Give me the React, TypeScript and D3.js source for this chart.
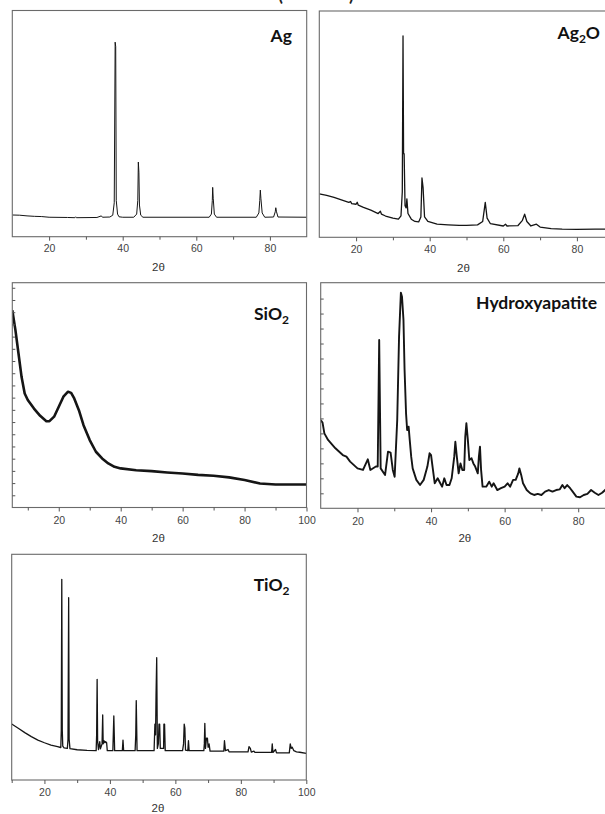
import React, { useRef, useEffect } from 'react'
import * as d3 from 'd3'

type Pt = [number, number]

// intensities are read as % of the plot height (0 = x axis, 100 = top frame)
const agData: Pt[] = [
  [10, 9.6], [12, 9.5], [14, 9.2], [16, 9.0], [18, 8.9], [20, 8.6], [25, 8.5], [27, 8.4], [27.2, 8.8],
  [27.4, 8.4], [33, 8.5], [34.2, 9.2], [34.5, 8.6], [36.5, 8.7], [37.3, 9.5], [37.7, 15], [37.95, 86],
  [38.1, 84], [38.25, 16], [38.6, 10], [39, 8.8], [40, 8.6], [43, 8.6], [43.8, 10], [44.1, 16],
  [44.25, 33], [44.4, 28.5], [44.55, 14], [44.9, 9.5], [45.5, 8.6], [63.5, 8.6], [64.1, 10], [64.35, 16],
  [64.45, 21.8], [64.6, 17], [64.9, 10], [65.5, 8.6], [76.3, 8.6], [77, 10.5], [77.25, 16], [77.4, 20.6],
  [77.55, 17], [77.9, 10.5], [78.6, 8.6], [81, 8.7], [81.45, 11], [81.6, 12.8], [81.8, 11], [82.2, 8.7],
  [90, 8.6],
]

const ag2oData: Pt[] = [
  [10, 19.2], [12, 18.5], [14, 17.6], [16, 16.5], [18, 15.4], [18.5, 15.8], [18.8, 14.9], [20, 14.6],
  [20.3, 15.5], [20.6, 14.2], [22, 13.2], [24, 12.0], [26, 10.5], [26.6, 11.5], [26.9, 10.2], [28, 9.4],
  [30, 8.5], [31.5, 8], [32.2, 9.5], [32.55, 20], [32.75, 89], [32.9, 37], [33.05, 37], [33.3, 14],
  [33.6, 13], [33.8, 17], [34.1, 10.5], [35, 8], [36, 7], [37, 6.8], [37.6, 9], [37.9, 26.2], [38.2, 22],
  [38.6, 9], [39.5, 7], [42, 5.8], [45, 5.5], [48, 5.3], [50, 5.3], [53, 5.5], [54.4, 7], [55.1, 15.4],
  [55.6, 8.5], [56.5, 6], [60, 5], [60.6, 5.8], [61, 5], [64, 5.2], [65.2, 7.5], [65.8, 10.2], [66.4, 7],
  [67.5, 5], [69, 5.8], [70, 4.5], [73, 3.8], [76, 3.6], [80, 3.5], [85, 3.6], [90, 3.6],
]

const sio2Data: Pt[] = [
  [5, 87.8], [6, 79], [7, 68.5], [8, 58], [9, 50.7], [10, 47.8], [12, 44], [14, 40.8], [16, 38.4],
  [17, 38.4], [18.5, 40.4], [20, 44.8], [21.5, 49.3], [23, 51.5], [24, 51], [25, 48.5], [26.5, 43.3],
  [28, 36.6], [30, 30], [32, 24.8], [34, 21.8], [36, 19.6], [38, 18.1], [40, 17.4], [45, 16.6],
  [50, 16.2], [55, 15.6], [60, 15.1], [65, 14.5], [70, 14.1], [75, 13.4], [80, 12.2], [85, 10.7],
  [90, 10.2], [95, 10.2], [100, 10.2],
]

const hapData: Pt[] = [
  [10, 39.1], [10.5, 38], [11, 33.2], [12, 30.3], [14, 26.6], [16, 23.6], [17, 22.9], [18, 20.7],
  [20, 17.7], [21.5, 17.0], [22.8, 21.7], [23.5, 17.0], [25, 18.5], [25.5, 18.5], [25.9, 74.6],
  [26.3, 17.7], [27.5, 14.8], [28.3, 25.1], [29, 24.7], [29.6, 17.0], [30.1, 14.0], [30.8, 39.1],
  [31.3, 76.1], [31.8, 95.6], [32.1, 93.8], [32.5, 83.5], [32.8, 61.3], [33.2, 42.1], [33.5, 34.7],
  [33.9, 36.2], [34.2, 30.3], [34.6, 22.9], [35, 17.7], [36, 12.6], [37, 10.3], [38, 12.6], [39, 18.5],
  [39.6, 24.4], [40, 23.6], [40.4, 18.5], [41, 11.1], [41.8, 13.3], [42.5, 11.1], [43, 9.6],
  [43.6, 13.3], [44.2, 10.3], [45, 10.3], [45.6, 13.3], [46.3, 22.9], [46.6, 29.5], [47, 22.9],
  [47.5, 15.5], [48, 19.9], [48.5, 17.0], [49, 17.0], [49.3, 31.8], [49.6, 37.7], [50, 30.3],
  [50.4, 21.4], [51, 22.2], [51.5, 19.9], [52, 18.5], [52.7, 15.5], [53, 22.9], [53.3, 27.3],
  [53.6, 17.0], [54, 9.6], [55, 9.6], [55.8, 11.8], [56.5, 9.6], [57, 11.1], [58, 8.1], [59, 8.9],
  [60, 9.6], [60.8, 11.1], [61.5, 9.6], [62.3, 12.6], [63, 12.6], [63.7, 15.5], [64, 17.7], [64.5, 14.8],
  [65, 11.1], [66, 8.1], [67, 6.6], [68, 5.9], [69, 6.4], [70, 5.9], [71, 7.4], [72, 8.1], [73, 7.4],
  [74, 8.1], [75, 8.4], [75.7, 10.3], [76.3, 8.9], [77, 10.3], [77.8, 8.9], [78.5, 7.4], [79.5, 5.2],
  [80.5, 4.9], [81.5, 5.9], [82.5, 6.4], [83.5, 8.1], [84.5, 6.9], [85.5, 5.9], [86.5, 6.9],
  [87.5, 8.4], [88.5, 5.9], [90, 7.4],
]

const tio2Data: Pt[] = [
  [10, 24.8], [12, 22.9], [14, 21], [16, 19.2], [18, 17.7], [20, 16.5], [22, 15.5], [24, 14.8],
  [25, 14.4], [25.15, 22], [25.3, 88.9], [25.45, 22], [25.6, 15], [26, 14.2], [27, 14], [27.2, 18],
  [27.4, 80.8], [27.55, 18], [27.8, 13.9], [30, 13.4], [33, 13.1], [35.8, 13], [35.95, 20], [36.1, 44.6],
  [36.25, 17], [36.5, 13.5], [36.9, 17], [37.1, 13.8], [37.6, 16], [37.8, 28.8], [37.95, 16], [38.2, 17.4],
  [38.5, 16.5], [38.7, 17], [39.0, 16.5], [39.2, 13], [40.9, 13], [41.2, 28.4], [41.45, 13], [43.8, 13],
  [44.0, 17.7], [44.2, 13], [47.7, 13], [47.9, 20], [48.05, 35.2], [48.3, 13], [53.5, 13], [53.75, 24.8],
  [53.95, 20], [54.1, 38], [54.3, 54.2], [54.5, 14], [54.8, 16], [55.0, 24.8], [55.2, 24.8], [55.4, 14],
  [56.4, 14], [56.5, 24.8], [56.7, 24.8], [56.9, 13], [62.2, 13], [62.5, 16], [62.7, 24.8], [62.9, 23],
  [63.1, 13.2], [63.8, 13], [64.0, 17.4], [64.2, 13], [68.7, 13], [68.85, 16], [69.0, 25.1], [69.2, 14],
  [69.5, 18.5], [69.8, 18.5], [70.0, 14.5], [70.3, 16], [70.6, 12.8], [74.8, 12.8], [75, 17.4], [75.3, 13],
  [76.1, 13.5], [76.4, 12.5], [82.2, 12.5], [82.5, 14.8], [82.9, 14], [83.2, 12.4], [84, 12.8],
  [84.3, 12.2], [89.4, 12.2], [89.6, 16], [89.8, 12.2], [90.6, 13.5], [90.9, 12], [94.8, 12], [95.1, 16],
  [95.4, 14], [95.7, 14.5], [96.2, 13], [97, 12.5], [98, 12.3], [100, 11.8],
]

const ticks90 = [20, 40, 60, 80]
const minor90 = [30, 50, 70]
const ticks100 = [20, 40, 60, 80, 100]
const minor100 = [10, 30, 50, 70, 90]

export default function App() {
  const svgRef = useRef<SVGSVGElement>(null)

  useEffect(() => {
    if (!svgRef.current) return
    const svg = d3.select(svgRef.current)
    svg.selectAll('*').remove()

    const panels = [
      { name: 'Ag', sub: '', tail: '', data: agData, dom: [10, 90], box: [12.3, 10.5, 306.7, 236.7], major: ticks90, minor: minor90, lw: 1, lab: [292, 42], pad: 4, yStep: 0, tOff: 34.5 },
      { name: 'Ag', sub: '2', tail: 'O', data: ag2oData, dom: [10, 90], box: [319.3, 11, 613.7, 237.3], major: ticks90, minor: minor90, lw: 1.3, lab: [600, 39], pad: 4, yStep: 0, tOff: 34.5 },
      { name: 'SiO', sub: '2', tail: '', data: sio2Data, dom: [5, 100], box: [12.3, 282.7, 306.5, 507.5], major: ticks100, minor: minor100, lw: 2.6, lab: [289, 320], pad: 5, yStep: 5.43, tOff: 34.5 },
      { name: 'Hydroxyapatite', sub: '', tail: '', data: hapData, dom: [10, 90], box: [320.7, 282.7, 615, 508.3], major: ticks90, minor: minor90, lw: 1.9, lab: [597, 309], pad: 5, yStep: 6.64, tOff: 34 },
      { name: 'TiO', sub: '2', tail: '', data: tio2Data, dom: [10, 100], box: [11.7, 554.3, 306.3, 780], major: ticks100, minor: minor100, lw: 1.3, lab: [289.5, 590.5], pad: 5, yStep: 0, tOff: 31.5 },
    ]

    panels.forEach((p, i) => {
      const [x0, y0, x1, y1] = p.box
      const x = d3.scaleLinear().domain(p.dom).range([x0, x1])
      const y = d3.scaleLinear().domain([0, 100]).range([y1, y0])
      const g = svg.append('g')

      g.append('clipPath').attr('id', `clip${i}`)
        .append('rect').attr('x', x0).attr('y', y0).attr('width', x1 - x0).attr('height', y1 - y0)

      const line = d3.line<Pt>().x(d => x(d[0])).y(d => y(d[1]))
      g.append('path')
        .datum(p.data)
        .attr('d', line)
        .attr('clip-path', `url(#clip${i})`)
        .attr('fill', 'none')
        .attr('stroke', '#151515')
        .attr('stroke-width', p.lw)
        .attr('stroke-linejoin', 'round')

      g.append('rect')
        .attr('x', x0).attr('y', y0).attr('width', x1 - x0).attr('height', y1 - y0)
        .attr('fill', 'none').attr('stroke', '#6a6a6a').attr('stroke-width', 1.1)

      if (p.yStep) {
        const yt = d3.range(p.yStep, 99, p.yStep)
        const ya = g.append('g').attr('transform', `translate(${x0},0)`)
          .call(d3.axisLeft(y).tickValues(yt).tickSize(-3).tickFormat(() => ''))
        ya.select('.domain').remove()
        ya.selectAll('line').attr('stroke', '#555')
      }

      const minorAx = g.append('g').attr('transform', `translate(0,${y1})`)
        .call(d3.axisBottom(x).tickValues(p.minor).tickSize(3).tickFormat(() => ''))
      minorAx.select('.domain').remove()
      minorAx.selectAll('line').attr('stroke', '#555')

      const ax = g.append('g').attr('transform', `translate(0,${y1})`)
        .call(d3.axisBottom(x).tickValues(p.major).tickSize(4).tickPadding(p.pad).tickFormat(d3.format('d')))
      ax.select('.domain').remove()
      ax.selectAll('line').attr('stroke', '#555')
      ax.selectAll('text')
        .attr('font-family', 'Arial, "Liberation Sans", sans-serif')
        .attr('font-size', 10.5)
        .attr('fill', '#444')

      // axis title sits near the middle of the (possibly cropped) axis
      const titleX = x1 > 605 ? x(50) - 3 : (x0 + x1) / 2 - 1
      g.append('text')
        .attr('x', titleX)
        .attr('y', y1 + p.tOff)
        .attr('text-anchor', 'middle')
        .attr('font-family', 'Arial, "Liberation Sans", sans-serif')
        .attr('font-size', 11.5)
        .attr('fill', '#333')
        .text('2θ')

      const t = g.append('text')
        .attr('x', p.lab[0]).attr('y', p.lab[1])
        .attr('text-anchor', 'end')
        .attr('font-family', 'Lato, "Open Sans", sans-serif')
        .attr('font-weight', 700)
        .attr('font-size', 17.5)
        .attr('fill', '#111')
      t.append('tspan').text(p.name)
      if (p.sub) t.append('tspan').attr('font-size', 12).attr('dy', 4).text(p.sub)
      if (p.tail) t.append('tspan').attr('dy', -4).text(p.tail)
    })

    // bottom edge of the cut-off figure title
    svg.append('text').attr('x', 278).attr('y', 0.5).attr('font-family', 'Lato, sans-serif')
      .attr('font-weight', 700).attr('font-size', 18).attr('fill', '#222').text('(')
    svg.append('text').attr('x', 349).attr('y', 0.5).attr('font-family', 'Lato, sans-serif')
      .attr('font-weight', 700).attr('font-size', 18).attr('fill', '#222').text(')')
  }, [])

  return (
    <svg
      ref={svgRef}
      width={605}
      height={814}
      style={{ position: 'absolute', left: 0, top: 0, background: '#fff' }}
    />
  )
}
